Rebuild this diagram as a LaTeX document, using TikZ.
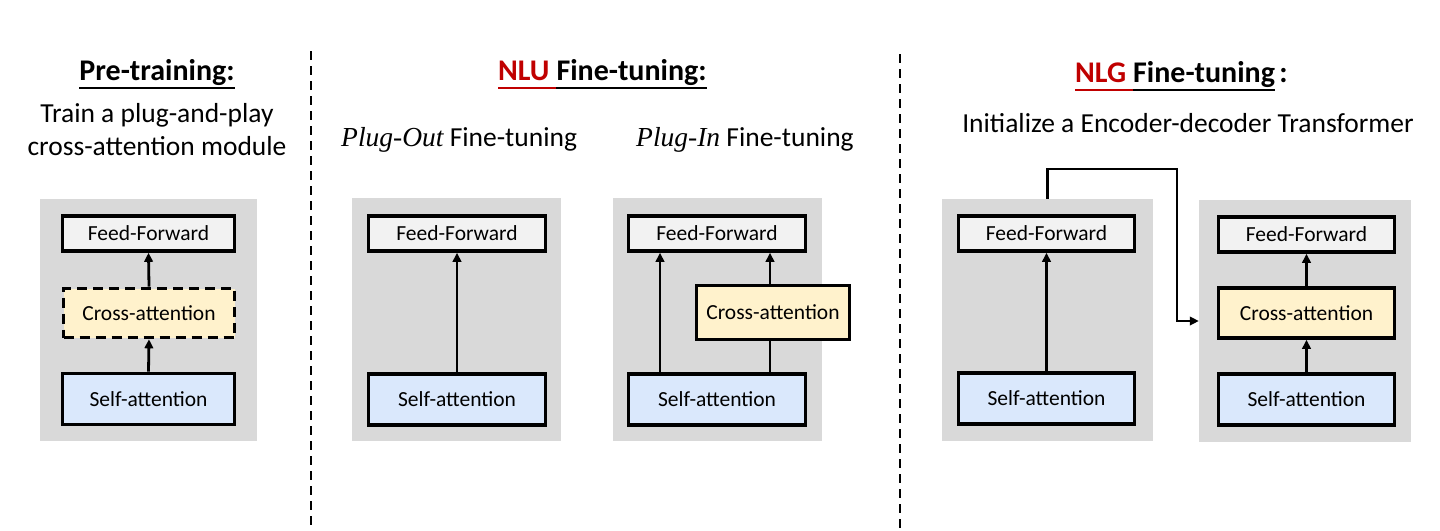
\documentclass[tikz,border=0pt]{standalone}
\usepackage{fontspec}
\setmainfont{Carlito}
\newfontfamily\itfam{Liberation Serif}
\usetikzlibrary{arrows.meta}
\definecolor{bggray}{HTML}{D9D9D9}
\definecolor{ffgray}{HTML}{F2F2F2}
\definecolor{sablue}{HTML}{DAE8FC}
\definecolor{cayellow}{HTML}{FFF2CC}
\definecolor{nred}{HTML}{C00000}
\tikzset{
  x=1pt, y=-1pt,
  bgbox/.style={fill=bggray, draw=none, inner sep=0pt},
  blk/.style={draw=black, line width=3.6pt, inner sep=0pt, align=center, font=\fontsize{21.5}{24}\selectfont},
  ffbox/.style={blk, fill=ffgray, minimum height=35pt},
  sabox/.style={blk, fill=sablue, minimum height=51pt},
  cabox/.style={blk, fill=cayellow, minimum height=50pt},
  ttl/.style={inner sep=0pt, font=\fontsize{30}{34}\selectfont\bfseries},
  sub/.style={inner sep=0pt, font=\fontsize{27.5}{32}\selectfont},
  arr/.style={line width=2.8pt, -{Triangle[length=9pt,width=8.5pt]}},
  ln/.style={line width=2.8pt},
  sep/.style={line width=2.4pt, dash pattern=on 9pt off 6pt},
  ul/.style={line width=1.8pt},
}
\begin{document}
\begin{tikzpicture}
\useasboundingbox (0,0) rectangle (1440,530);
\fill[white] (0,0) rectangle (1440,530);

% separators
\coordinate (s1a) at (311,51);
\coordinate (s1b) at (311,530);
\coordinate (s2a) at (900,54);
\coordinate (s2b) at (900,530);
\draw[sep] (s1a) -- (s1b);
\draw[sep] (s2a) -- (s2b);

% ---------- titles ----------
\node[ttl, anchor=base] (pt) at (157,80) {Pre-training:};
\draw[ul] ([yshift=-8pt]pt.base west) -- ([yshift=-8pt]pt.base east);
\node[sub, anchor=base] (pt1) at (157,122) {Train a plug-and-play};
\node[sub, anchor=base] (pt2) at (157,155) {cross-attention module};

\node[ttl, anchor=base west, text=nred] (nlu) at (498,80) {NLU\kern0.22em};
\node[ttl, anchor=base west] (nluft) at (nlu.base east) {Fine-tuning:};
\draw[ul, nred] ([yshift=-8pt]nlu.base west) -- ([yshift=-8pt]nlu.base east);
\draw[ul] ([yshift=-8pt]nluft.base west) -- ([yshift=-8pt]nluft.base east);

\node[sub, anchor=base west] (po) at (341,146) {{\itfam\itshape Plug-Out} Fine-tuning};
\node[sub, anchor=base west] (pi) at (636,146) {{\itfam\itshape Plug-In} Fine-tuning};

\node[ttl, anchor=base west, text=nred] (nlg) at (1075,82) {NLG\kern0.22em};
\node[ttl, anchor=base west] (nlgft) at (nlg.base east) {Fine-tuning};
\node[ttl, anchor=base west] (nlgc) at ([xshift=4pt]nlgft.base east) {:};
\draw[ul, nred] ([yshift=-8pt]nlg.base west) -- ([yshift=-8pt]nlg.base east);
\draw[ul] ([yshift=-8pt]nlgft.base west) -- ([yshift=-8pt]nlgft.base east);
\node[sub, anchor=base] (init) at (1188,132) {Initialize a Encoder-decoder Transformer};

% ---------- panel 1: pre-training ----------
\node[bgbox, minimum width=217pt, minimum height=242pt] (bg1) at (148.5,320) {};
\node[ffbox, minimum width=172pt] (ff1) at (148.5,233.5) {Feed-Forward};
\node[cabox, minimum width=171pt, minimum height=49pt, dashed, dash pattern=on 10pt off 6pt] (ca1) at (149,313) {Cross-attention};
\node[sabox, minimum width=172pt] (sa1) at (148.5,399) {Self-attention};
\draw[arr] (sa1.north) -- (ca1.south);
\draw[arr] (ca1.north) -- (ff1.south);

% ---------- panel 2: plug-out ----------
\node[bgbox, minimum width=209pt, minimum height=243pt] (bg2) at (456.5,319.5) {};
\node[ffbox, minimum width=177pt] (ff2) at (457,233.5) {Feed-Forward};
\node[sabox, minimum width=177pt] (sa2) at (457,399.5) {Self-attention};
\draw[arr] (sa2.north) -- (ff2.south);

% ---------- panel 3: plug-in ----------
\node[bgbox, minimum width=209pt, minimum height=243pt] (bg3) at (717.5,319.5) {};
\node[ffbox, minimum width=177pt] (ff3) at (717,233.5) {Feed-Forward};
\node[sabox, minimum width=177pt] (sa3) at (717,399.5) {Self-attention};
\node[cabox, minimum width=153pt, minimum height=54pt] (ca3) at (773,312.5) {Cross-attention};
\draw[arr] (sa3.north -| 660,0) -- (ff3.south -| 660,0);
\draw[ln] (sa3.north -| 770,0) -- (ca3.south -| 770,0);
\draw[arr] (ca3.north -| 770,0) -- (ff3.south -| 770,0);

% ---------- panel 4: NLG encoder / decoder ----------
\node[bgbox, minimum width=211pt, minimum height=242pt] (bg4) at (1047.5,320) {};
\node[ffbox, minimum width=176pt] (ff4) at (1046.5,233.5) {Feed-Forward};
\node[sabox, minimum width=176pt] (sa4) at (1046.5,398.5) {Self-attention};
\draw[arr] (sa4.north) -- (ff4.south);

\node[bgbox, minimum width=212pt, minimum height=242pt] (bg5) at (1305,321) {};
\node[ffbox, minimum width=176pt] (ff5) at (1306.5,234.5) {Feed-Forward};
\node[cabox, minimum width=176pt] (ca5) at (1306.5,313) {Cross-attention};
\node[sabox, minimum width=176pt] (sa5) at (1306.5,399.5) {Self-attention};
\draw[arr] (sa5.north) -- (ca5.south);
\draw[arr] (ca5.north) -- (ff5.south);

\draw[arr, line width=2.2pt] (bg4.north) -- ++(0,-30) -| (1177,321) -- (bg5.west);
\end{tikzpicture}
\end{document}
